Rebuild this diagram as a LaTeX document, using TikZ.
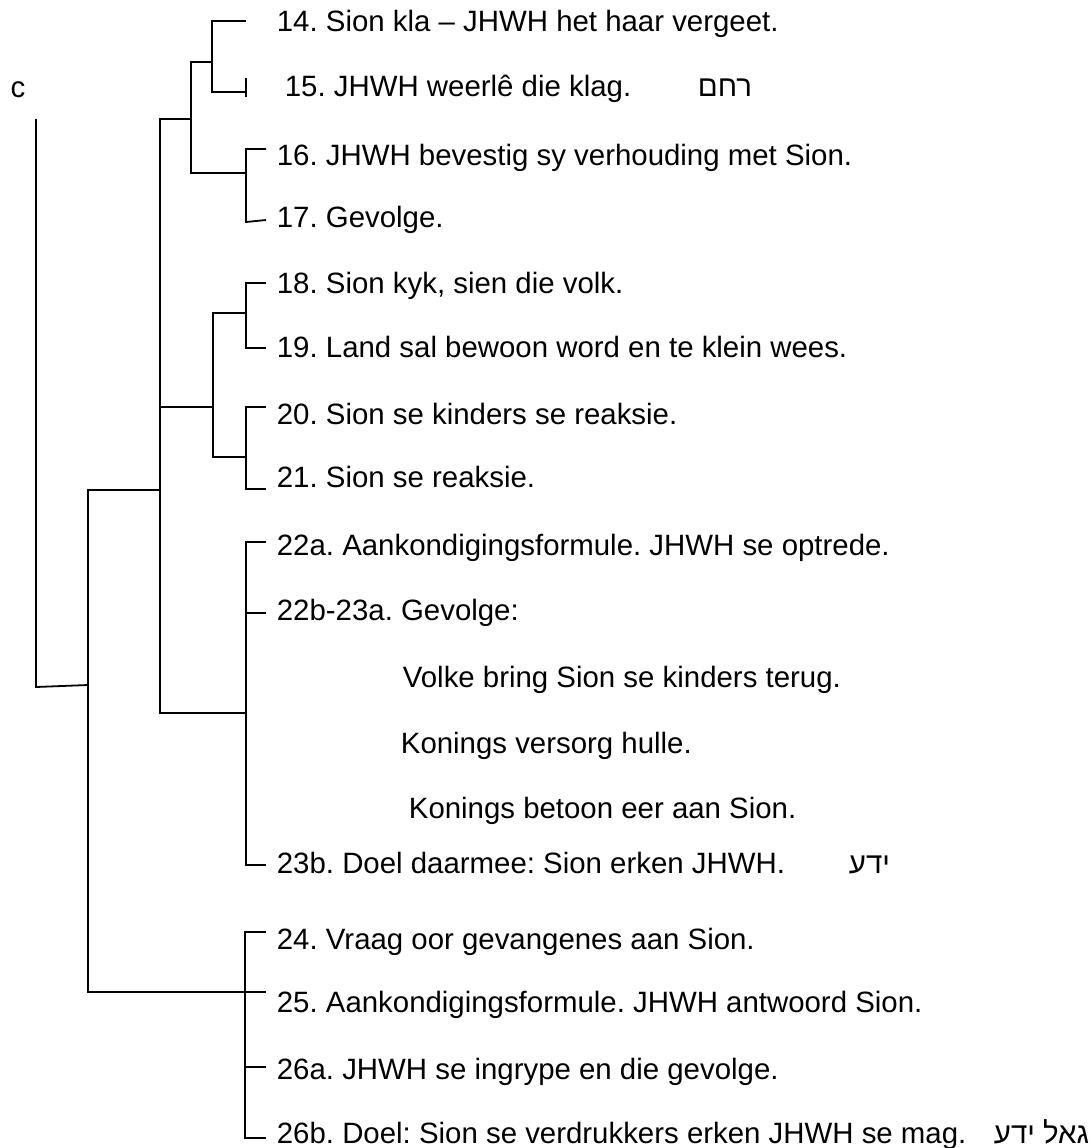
\documentclass[tikz,border=0pt]{standalone}
\usepackage{fontspec}
\usetikzlibrary{positioning}
\setmainfont{Liberation Sans}
\newfontfamily\hebfont[Script=Hebrew]{Liberation Sans}
\TeXXeTstate=1
\frenchspacing
\tikzset{
  leaf/.style={anchor=west, inner xsep=5pt, inner ysep=0pt, text height=10.5pt, text depth=0.5pt},
  sub/.style={anchor=west, inner sep=0pt, text height=10.5pt, text depth=0.5pt},
  heb/.style={anchor=west, inner sep=0pt, text height=10.5pt, text depth=0.5pt, font=\hebfont\fontsize{14.7}{17}\selectfont},
}
\begin{document}
\begin{tikzpicture}[x=0.5pt, y=-0.5pt, line width=0.9pt, font=\fontsize{14.7}{17}\selectfont]
    \useasboundingbox (0,0) rectangle (1091,1148);
    % labels
    \node (c) at (18,90) {c};
    \node[leaf] (n14) at (266,21) {14. Sion kla – JHWH het haar vergeet.};
    \node[leaf] (n15) at (274,86) {15. JHWH weerlê die klag.};
    \node[heb] (h15) at (697,86) {\beginR רחם\endR};
    \node[leaf] (n16) at (266,155) {16. JHWH bevestig sy verhouding met Sion.};
    \node[leaf] (n17) at (266,217) {17. Gevolge.};
    \node[leaf] (n18) at (266,283) {18. Sion kyk, sien die volk.};
    \node[leaf] (n19) at (266,347) {19. Land sal bewoon word en te klein wees.};
    \node[leaf] (n20) at (266,414) {20. Sion se kinders se reaksie.};
    \node[leaf] (n21) at (266,477) {21. Sion se reaksie.};
    \node[leaf] (n22a) at (266,545) {22a. Aankondigingsformule. JHWH se optrede.};
    \node[leaf] (n22b) at (266,610) {22b-23a. Gevolge:};
    \node[sub] (v1) at (402,677) {Volke bring Sion se kinders terug.};
    \node[sub] (v2) at (400,743) {Konings versorg hulle.};
    \node[sub] (v3) at (408,808) {Konings betoon eer aan Sion.};
    \node[leaf] (n23b) at (266,863) {23b. Doel daarmee: Sion erken JHWH.};
    \node[heb, right=26pt of n23b] (h23b) {\beginR ידע\endR};
    \node[leaf] (n24) at (266,939) {24. Vraag oor gevangenes aan Sion.};
    \node[leaf] (n25) at (266,1002) {25. Aankondigingsformule. JHWH antwoord Sion.};
    \node[leaf] (n26a) at (266,1069) {26a. JHWH se ingrype en die gevolge.};
    \node[leaf] (n26b) at (266,1133) {26b. Doel: Sion se verdrukkers erken JHWH se mag.};
    \node[heb] (h26b) at (993,1133) {\beginR גאל ידע\endR};
    % 14-15
    \coordinate (k14) at (212,21);
    \coordinate (k15) at (212,92);
    \coordinate (e14) at (246,21);
    \coordinate (e15) at (246,92);
    \draw (e14) -- (k14) -- (k15) -- (e15) ++(0,-14) -- ++(0,19);
    % 16-17
    \coordinate (k16) at (246,149);
    \coordinate (k17) at (246,222);
    \draw (n16.west |- k16) -- (k16) -- (k17) -- ([yshift=1pt]n17.west |- k17);
    \coordinate (k1415) at (191,62);
    \coordinate (k1617) at (191,173);
    \draw (k1415 -| k14) -- (k1415) -- (k1617) -- (k1617 -| k16);
    % 18-21
    \coordinate (k18) at (246,283);
    \coordinate (k19) at (246,348);
    \draw (n18.west |- k18) -- (k18) -- (k19) -- (n19.west |- k19);
    \coordinate (k20) at (246,407);
    \coordinate (k21) at (246,489);
    \draw (n20.west |- k20) -- (k20) -- (k21) -- (n21.west |- k21);
    \coordinate (k1819) at (213,313);
    \coordinate (k2021) at (213,457);
    \draw (k1819 -| k18) -- (k1819) -- (k2021) -- (k2021 -| k20);
    % 22-23
    \coordinate (k22a) at (246,542);
    \coordinate (k22b) at (246,613);
    \coordinate (k23b) at (246,865);
    \draw (n22a.west |- k22a) -- (k22a) -- (k23b) -- (n23b.west |- k23b);
    \draw (k22b) -- (n22b.west |- k22b);
    % 24-26
    \coordinate (k24) at (245,932);
    \coordinate (k25) at (245,992);
    \coordinate (k26a) at (245,1067);
    \coordinate (k26b) at (245,1138);
    \draw (n24.west |- k24) -- (k24) -- (k26b) -- (n26b.west |- k26b);
    \draw (k25) -- (n25.west |- k25);
    \draw (k26a) -- (n26a.west |- k26a);
    % upper levels
    \coordinate (k1417) at (160,119);
    \coordinate (k1821) at (160,407);
    \coordinate (k2223) at (160,713);
    \draw (k1417 -| k1415) -- (k1417) -- (k2223) -- (k2223 -| k22a);
    \draw (k1821) -- (k1821 -| k1819);
    \coordinate (k1423) at (88,490);
    \coordinate (k2426) at (88,992);
    \draw (k1423 -| k1417) -- (k1423) -- (k2426) -- (k2426 -| k25);
    % root
    \coordinate (r1) at (36,119);
    \coordinate (r2) at (36,687);
    \coordinate (k1426) at (88,685);
    \draw (r1) -- (r2) -- (k1426);
\end{tikzpicture}
\end{document}
